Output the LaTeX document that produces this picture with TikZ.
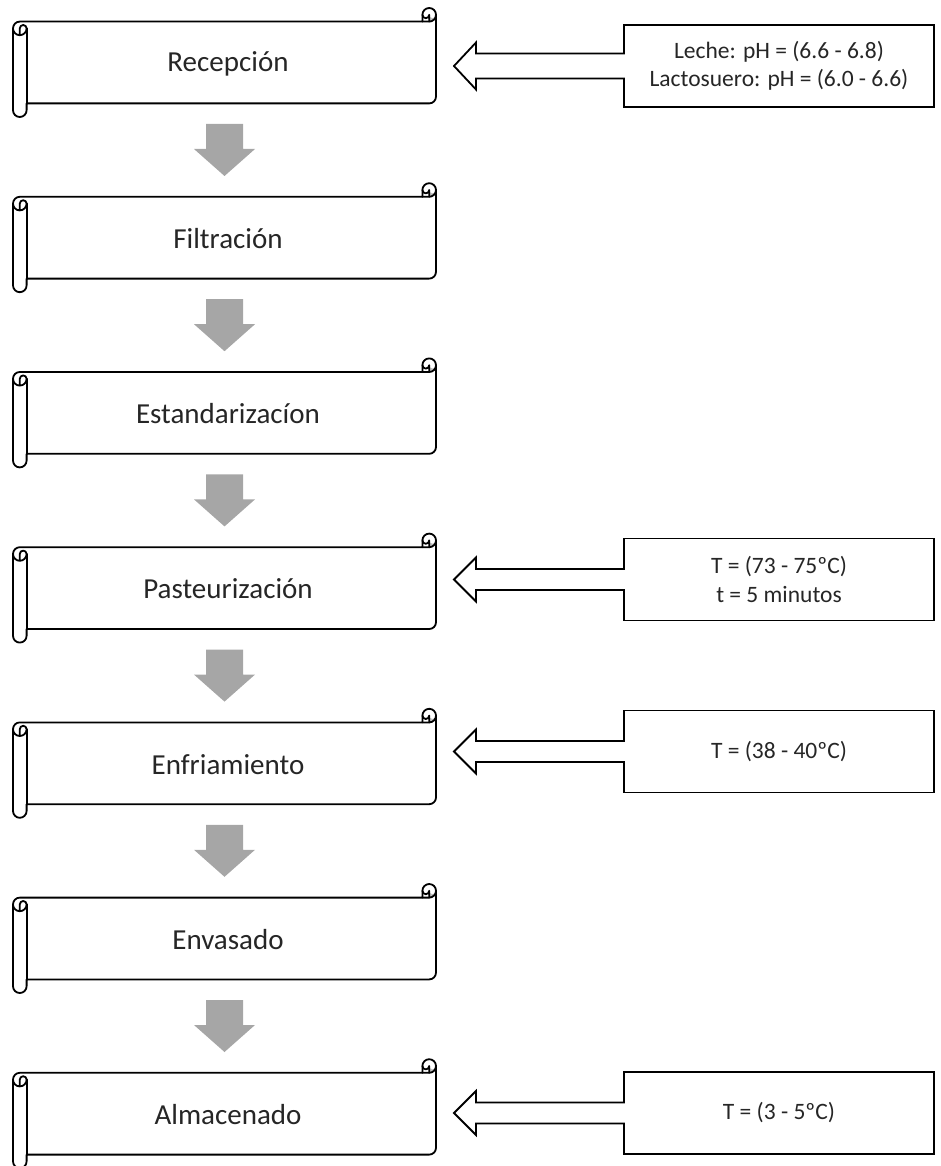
\documentclass[tikz,border=0pt]{standalone}
\usepackage{fontspec}
\setmainfont{Carlito}
\usetikzlibrary{calc}
\definecolor{arrowgrey}{HTML}{A6A6A6}
\definecolor{curlgrey}{HTML}{BFBFBF}
\definecolor{textdark}{HTML}{262626}
\tikzset{
  outline/.style={line width=1.8pt, line join=round, line cap=round},
  steptext/.style={font=\fontsize{29}{35}\selectfont, text=textdark, inner sep=0pt},
  infobox/.style={draw, line width=1.8pt, fill=white, minimum width=310pt, minimum height=82pt,
    align=center, font=\fontsize{23.5}{28.5}\selectfont, text=textdark, inner sep=0pt, outer sep=0pt},
  flowarrow/.style={fill=arrowgrey},
  hollowarrow/.style={draw, fill=white, line width=1.8pt, line join=miter},
}
% #1 = top y of shape, #2 = node name, #3 = text
\newcommand\drawscroll[3]{%
  \begin{scope}[shift={(13,#1)}]
    \filldraw[outline, fill=white] (0,20.4) arc[start angle=180,delta angle=90,radius=6.8]
      -- (409.4,13.6) -- (409.4,6.8) arc[start angle=180,delta angle=180,radius=6.8]
      -- (423,88.6) arc[start angle=0,delta angle=90,radius=6.8]
      -- (13.6,95.4) -- (13.6,102.2) arc[start angle=0,delta angle=180,radius=6.8] -- cycle;
    \fill[curlgrey] (416.2,13.6) arc[start angle=90,delta angle=-90,radius=6.8]
      arc[start angle=0,delta angle=180,radius=3.4] -- cycle;
    \draw[outline] (409.4,13.6) -- (416.2,13.6) arc[start angle=90,delta angle=-90,radius=6.8];
    \draw[outline] (416.2,13.6) -- (416.2,6.8) arc[start angle=0,delta angle=180,radius=3.4];
    \draw[outline] (6.8,27.2) -- (6.8,20.4) arc[start angle=180,delta angle=180,radius=3.4]
      arc[start angle=0,delta angle=180,radius=6.8];
    \draw[outline] (13.6,20.4) -- (13.6,95.4);
    \node[steptext] (#2) at (215,55.5) {#3};
  \end{scope}}
% #1 = coordinate name at top centre of grey arrow
\newcommand\greyarrow[1]{%
  \fill[flowarrow] ($(#1)+(-18.5,0)$) -- ++(37,0) -- ++(0,25) -- ++(12,0) -- ++(-30.5,27)
    -- ++(-30.5,-27) -- ++(12,0) -- cycle;}
\begin{document}
\begin{tikzpicture}[x=1pt,y=-1pt]
  \useasboundingbox (0,0) rectangle (941,1166);

  \drawscroll{8}{s1}{Recepción}
  \drawscroll{183.2}{s2}{Filtración}
  \drawscroll{358.4}{s3}{Estandarizacíon}
  \drawscroll{533.6}{s4}{Pasteurización}
  \drawscroll{708.8}{s5}{Enfriamiento}
  \drawscroll{884}{s6}{Envasado}
  \drawscroll{1059.2}{s7}{Almacenado}

  \coordinate (g1) at (224.5,124);
  \coordinate (g2) at (224.5,299.2);
  \coordinate (g3) at (224.5,474.4);
  \coordinate (g4) at (224.5,649.6);
  \coordinate (g5) at (224.5,824.8);
  \coordinate (g6) at (224.5,1000);
  \greyarrow{g1}\greyarrow{g2}\greyarrow{g3}\greyarrow{g4}\greyarrow{g5}\greyarrow{g6}

  \node[infobox] (b1) at (779,66) {Leche: pH = (6.6 - 6.8)\\Lactosuero: pH = (6.0 - 6.6)};
  \node[infobox] (b4) at (779,579.5) {T = (73 - 75ºC)\\t = 5 minutos};
  \node[infobox] (b5) at (779,751.5) {T = (38 - 40ºC)};
  \node[infobox] (b7) at (779,1113) {T = (3 - 5ºC)};

  \coordinate (t1) at (454,66);
  \coordinate (t4) at (454,579.5);
  \coordinate (t5) at (454,751.5);
  \coordinate (t7) at (454,1113);

  \path[hollowarrow] ([xshift=0.9pt,yshift=12.5pt]b1.west) -- ++(-148.9,0) -- ++(0,-11) -- (t1)
    -- ++(22,23.5) -- ++(0,-11) -- ++(148.9,0);
  \path[hollowarrow] ([xshift=0.9pt,yshift=10.5pt]b4.west) -- ++(-148.9,0) -- ++(0,-11.5) -- (t4)
    -- ++(22,22) -- ++(0,-11.5) -- ++(148.9,0);
  \path[hollowarrow] ([xshift=0.9pt,yshift=10.5pt]b5.west) -- ++(-148.9,0) -- ++(0,-11.5) -- (t5)
    -- ++(22,22) -- ++(0,-11.5) -- ++(148.9,0);
  \path[hollowarrow] ([xshift=0.9pt,yshift=10.5pt]b7.west) -- ++(-148.9,0) -- ++(0,-11.5) -- (t7)
    -- ++(22,22) -- ++(0,-11.5) -- ++(148.9,0);
\end{tikzpicture}
\end{document}
